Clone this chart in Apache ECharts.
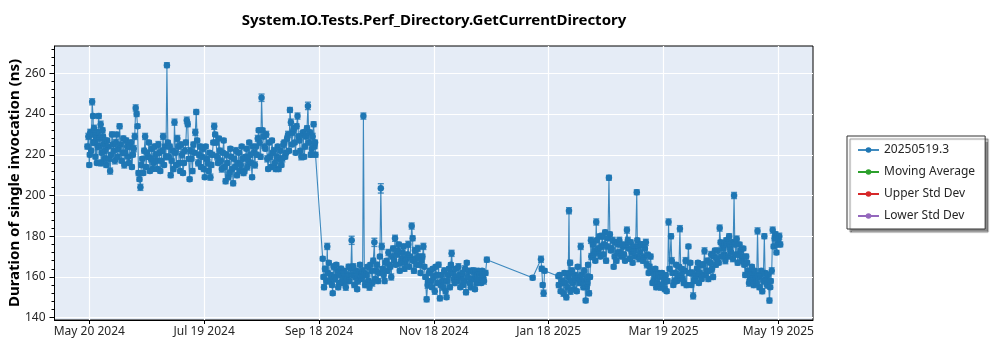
<!DOCTYPE html>
<html>
<head>
<meta charset="utf-8">
<script src="https://cdn.jsdelivr.net/npm/echarts@6/dist/echarts.min.js"></script>
<style>
  html, body { margin: 0; padding: 0; background: #ffffff; }
  #chart { width: 1000px; height: 350px; }
</style>
</head>
<body>
<div id="chart"></div>
<script>
// Run dates are given as days since May 20 2024.
const runDays = [
  -1, -0.5, 0, 0.5, 1, 1.5, 2, 2.5, 3, 3.5,
  4, 4.5, 5, 5.5, 6, 6.5, 7, 7.5, 8, 8.5,
  9, 10, 11, 11.5, 12, 13, 14, 15, 16, 16.5,
  17, 18, 19, 20, 21, 22, 23, 24, 24.5, 25,
  25.5, 26, 26.5, 27, 28, 29, 29.5, 30, 31, 32,
  33, 34, 35, 36, 37, 38, 39, 40, 41, 41.5,
  42, 43, 44, 45, 46, 47, 48, 49, 50, 51,
  51.5, 52, 53, 53.5, 54, 55, 56, 56.5, 57, 58,
  59, 60, 61, 62, 63, 64, 65, 66, 66.5, 67,
  68, 69, 70, 71, 72, 73, 74, 75, 76, 77,
  78, 79, 80, 81, 82, 83, 84, 85, 86, 87,
  88, 89, 90, 91, 91.5, 92, 93, 94, 95, 96,
  97, 98, 99, 100, 101, 102, 103, 104, 105, 106,
  106.5, 107, 108, 109, 110, 110.5, 111, 112, 113, 114,
  115, 115.5, 116, 117, 118, 118.5, 119, 119.5,
  123.3, 124, 125.7, 126, 127, 128.6, 129, 130, 131, 132,
  133, 134, 135, 136, 137, 138.6, 139, 140, 141, 142,
  143, 144, 144.8, 145.3, 146, 147, 148, 149, 150, 150.6,
  151, 152, 153, 154, 154.5, 155, 156, 157, 158, 159,
  160, 161.5, 162, 163, 164, 165, 166, 167, 168, 169,
  170.3, 170.8, 171, 172, 173, 174, 175, 176.5, 177, 178.2,
  179, 180, 181, 182, 183, 184, 185.2, 186, 187, 188.7,
  189, 190, 191.4, 192, 193, 194, 195, 196, 197, 198,
  199, 199.4, 200, 201, 202, 203.7, 204, 205, 206, 207,
  208, 210,
  234.2, 238.6, 239, 239.5, 240, 240.5, 247.8, 248, 249, 250,
  251, 252, 253, 253.4, 254, 254.5, 255, 256, 257, 258,
  259, 259.6, 260, 261, 262.2, 263, 263.5, 264, 265, 265.5,
  266, 267, 267.8, 268, 269, 270, 271, 272, 273, 274,
  274.5, 275, 276, 277, 278, 279, 280, 281, 282, 283,
  284, 285, 286, 287, 288, 289.2, 289.5, 290, 291, 292,
  293, 294, 295, 296, 297, 298, 299, 300, 301, 302,
  303, 304, 305, 306, 307.3, 308, 309, 310, 311, 312,
  313, 314, 315, 316.5, 317, 318, 319, 320, 321, 322,
  323, 324, 325, 326, 327, 328, 329, 330, 331, 332,
  333, 333.5, 334, 335, 336, 337, 338, 339, 340, 340.6,
  341, 342, 343, 344, 345, 346, 347, 348, 349, 350,
  351, 352, 353, 353.5, 354, 355, 356, 356.6, 357, 358,
  359.3, 360, 360.5, 361, 361.5, 362, 363, 364, 365
];

// Duration of a single invocation, ns
const durations = [
  224, 229, 215, 231, 222, 246, 239, 233, 226, 229,
  216, 224, 239, 228, 235, 221, 232, 225, 218, 227,
  215, 224, 212, 220, 230, 222, 226, 219, 234, 225,
  217, 228, 221, 224, 216, 226, 220, 229, 243, 240,
  234, 211, 208, 204, 218, 222, 229, 214, 219, 212,
  223, 216, 220, 213, 221, 217, 229, 224, 264, 226,
  219, 210, 222, 236, 215, 224, 212, 220, 216, 226,
  237, 235, 208, 222, 218, 225, 231, 241, 227, 220,
  214, 223, 209, 218, 212, 209, 220, 234, 230, 226,
  216, 222, 213, 227, 207, 216, 211, 219, 206, 214,
  210, 221, 215, 218, 212, 223, 217, 220, 209, 221,
  224, 228, 226, 248, 232, 229, 223, 218, 226, 214,
  221, 216, 219, 213, 222, 218, 226, 221, 230, 242,
  236, 225, 233, 221, 239, 229, 227, 219, 231, 224,
  233, 244, 226, 220, 229, 235, 224, 220,
  169, 155, 175, 162, 158, 152, 165, 160, 163, 157,
  164, 159, 162, 158, 165, 178, 161, 156, 163, 158,
  166, 160, 239, 162, 157, 165, 155, 163, 168, 177,
  159, 166, 162, 203.5, 175, 164, 158, 168, 172, 165,
  170, 179, 166, 173, 163, 169, 175, 167, 171, 165,
  185, 179, 168, 173, 166, 170, 162, 175, 165, 149,
  158, 163, 155, 160, 165, 157, 149.5, 161, 155, 150,
  158, 164, 171.6, 162, 157, 160, 165, 155, 162, 158,
  152.5, 167, 160, 157, 163, 154, 161, 158, 162, 157,
  160, 168.5,
  159.6, 168.7, 164, 156, 152, 163, 160.3, 156, 153, 158,
  162, 150, 160, 192.5, 167, 158, 163, 154, 159, 165,
  157, 175, 161, 155, 148.4, 160, 166, 152, 178, 170,
  176, 173, 187, 178, 174, 170, 180, 176, 168, 179,
  208.7, 181, 174, 165, 177, 172, 178, 170, 175, 168,
  183, 174, 177, 167, 173, 201.6, 178, 175, 172, 176,
  170, 177, 171, 165, 163, 158, 164, 157, 162, 155,
  160, 154, 153, 187, 180, 162, 158, 166, 160, 183.7,
  164, 157, 168, 175, 162, 156, 150.7, 159, 164, 157,
  166, 161, 172.8, 163, 159, 167, 164, 170, 166, 173,
  184, 177, 170, 174, 168, 176, 180, 172, 169, 200,
  176, 178.6, 171, 173, 168, 166, 170, 163, 159, 165,
  156, 161, 182.6, 160, 155, 163, 158, 180, 162, 156,
  148.4, 158, 163, 183, 175, 179, 172, 178, 176
];

// Standard error of each measurement, ns
const stdErrors = [
  1.2, 1.5, 1, 1.5, 1.2, 1.5, 1, 1.5, 1.2, 1,
  1, 1.5, 1.2, 1, 1.5, 1, 1.2, 1, 1.5, 1,
  1.2, 1, 1.5, 1, 1.2, 1, 1.5, 1, 1.2, 1,
  1, 1.2, 1, 1.5, 1, 1.2, 1, 1.5, 1.5, 1.2,
  1, 1.2, 1, 1.5, 1, 1.2, 1.5, 1, 1.2, 1,
  1.2, 1, 1.5, 1, 1.2, 1, 1.5, 1, 1.2, 1,
  1, 1.2, 1, 1.5, 1, 1.2, 1, 1.5, 1, 1.2,
  1.5, 1.2, 1, 1.5, 1, 1.2, 1.5, 1.2, 1, 1.2,
  1, 1.5, 1, 1.2, 1, 1.5, 1.2, 1.5, 1, 1.2,
  1, 1.2, 1.5, 1, 1.2, 1, 1.5, 1, 1.2, 1,
  1.2, 1, 1.5, 1, 1.2, 1, 1.5, 1.2, 1, 1.2,
  1, 1.5, 1.2, 1.8, 1, 1.2, 1, 1.5, 1, 1.2,
  1, 1.5, 1, 1.2, 1, 1.5, 1.2, 1, 1.5, 1.2,
  1.5, 1, 1.2, 1, 1.5, 1.2, 1, 1.5, 1, 1.2,
  1.2, 1.8, 1, 1.2, 1.5, 1.2, 1, 1.2,
  1, 1.2, 1.5, 1, 1.2, 1, 1.5, 1, 1.2, 1,
  1.2, 1, 1.5, 1, 1.2, 2, 1, 1.2, 1, 1.5,
  1, 1.2, 1.5, 1, 1.2, 1, 1.5, 1, 1.2, 2,
  1, 1.2, 1, 2.3, 1.5, 1, 1.2, 1, 1.5, 1,
  1.2, 1.5, 1, 1.2, 1, 1.5, 1.2, 1, 1.2, 1,
  1.5, 1.2, 1, 1.5, 1, 1.2, 1, 1.5, 1, 1.2,
  1, 1.2, 1, 1.5, 1, 1.2, 1.2, 1, 1.5, 1,
  1.2, 1, 1.5, 1, 1.2, 1, 1.5, 1, 1.2, 1,
  1.2, 1, 1.5, 1, 1.2, 1, 1.5, 1, 1.2, 1,
  1, 1.2,
  1, 1.5, 1.2, 1, 1.5, 1, 1, 1.2, 1, 1.5,
  1, 1.2, 1, 1.5, 1.2, 1, 1.5, 1, 1.2, 1,
  1.2, 1.5, 1, 1.2, 1, 1.5, 1, 1.2, 1.5, 1,
  1.2, 1, 1.5, 1, 1.2, 1, 1.5, 1, 1.2, 1,
  1.2, 1, 1.5, 1, 1.2, 1, 1.5, 1, 1.2, 1,
  1.5, 1, 1.2, 1, 1.5, 1.2, 1, 1.5, 1, 1.2,
  1, 1.5, 1, 1.2, 1, 1.5, 1, 1.2, 1, 1.5,
  1, 1.2, 1, 1.5, 1.2, 1, 1.5, 1, 1.2, 1.5,
  1, 1.2, 1.5, 1, 1.2, 1, 1.5, 1, 1.2, 1,
  1.2, 1, 1.5, 1, 1.2, 1, 1.5, 1, 1.2, 1,
  1.5, 1, 1.2, 1, 1.5, 1, 1.2, 1, 1.5, 1.5,
  1, 1.5, 1.2, 1, 1.5, 1, 1.2, 1, 1.5, 1,
  1.2, 1, 1.5, 1, 1.2, 1, 1.5, 1.2, 1, 1.5,
  1.2, 1, 1.5, 1.5, 1, 1.2, 1, 1.5, 1.2
];

// Additional runs on the same days (later builds of the day)
const laterRunDays = [
  0.25, 1.25, 2.25, 3.25, 4.25, 5.25, 6.25, 7.25, 8.25, 9.5,
  10.5, 12.5, 13.5, 14.5, 15.5, 17.5, 18.5, 19.5, 20.5, 21.5,
  22.5, 23.5, 27.5, 28.5, 30.5, 31.5, 32.5, 33.5, 34.5, 35.5,
  36.5, 37.5, 38.5, 39.5, 40.5, 42.5, 43.5, 44.5, 45.5, 46.5,
  47.5, 48.5, 49.5, 50.5, 52.5, 54.5, 55.5, 57.5, 58.5, 59.5,
  60.5, 61.5, 62.5, 63.5, 64.5, 65.5, 67.5, 68.5, 69.5, 70.5,
  71.5, 72.5, 73.5, 74.5, 75.5, 76.5, 77.5, 78.5, 79.5, 80.5,
  81.5, 82.5, 83.5, 84.5, 85.5, 86.5, 87.5, 88.5, 89.5, 90.5,
  92.5, 93.5, 94.5, 95.5, 96.5, 97.5, 98.5, 99.5, 100.5, 101.5,
  102.5, 103.5, 104.5, 105.5, 107.5, 108.5, 109.5, 111.5, 112.5, 113.5,
  114.5, 116.5, 117.5, 119.25,
  123.7, 124.5, 125.3, 126.5, 127.5, 128.2, 129.5, 130.5, 131.5, 132.5,
  133.5, 134.5, 135.5, 136.5, 137.5, 138.2, 139.5, 140.5, 141.5, 142.5,
  143.5, 144.4, 145.7, 146.5, 147.5, 148.5, 149.5, 151.5, 152.5, 153.5,
  155.5, 156.5, 157.5, 158.5, 159.5, 160.5, 161, 162.5, 163.5, 164.5,
  165.5, 166.5, 167.5, 168.5, 169.5, 171.5, 172.5, 173.5, 174.5, 175.5,
  176, 177.5, 178.7, 179.5, 180.5, 181.5, 182.5, 183.5, 184.5, 185.7,
  186.5, 187.5, 188.2, 189.5, 190.5, 191, 192.5, 193.5, 194.5, 195.5,
  196.5, 197.5, 198.5, 200.5, 201.5, 202.5, 203, 204.5, 205.5, 206.5,
  207.5, 208.5, 209.3,
  248.5, 249.5, 250.5, 251.5, 252.5, 253.7, 254.2, 255.5, 256.5, 257.5,
  258.5, 260.5, 261.5, 262.7, 263.2, 264.5, 265.2, 266.5, 267.3, 268.5,
  269.5, 270.5, 271.5, 272.5, 273.5, 275.5, 276.5, 277.5, 278.5, 279.5,
  280.5, 281.5, 282.5, 283.5, 284.5, 285.5, 286.5, 287.5, 288.5, 290.5,
  291.5, 292.5, 293.5, 294.5, 295.5, 296.5, 297.5, 298.5, 299.5, 300.5,
  301.5, 302.5, 303.5, 304.5, 305.5, 306.5, 307.7, 308.5, 309.5, 310.5,
  311.5, 312.5, 313.5, 314.5, 315.5, 317.5, 318.5, 319.5, 320.5, 321.5,
  322.5, 323.5, 324.5, 325.5, 326.5, 327.5, 328.5, 329.5, 330.5, 331.5,
  332.5, 334.5, 335.5, 336.5, 337.5, 338.5, 339.5, 341.5, 342.5, 343.5,
  344.5, 345.5, 346.5, 347.5, 348.5, 349.5, 350.5, 351.5, 352.5, 354.5,
  355.5, 357.5, 358.5, 359.7, 362.5, 363.5, 364.5
];

const laterDurations = [
  220, 230, 226, 219, 231, 224, 216, 229, 222, 227,
  218, 225, 217, 230, 223, 221, 215, 227, 219, 224,
  214, 223, 215, 211, 221, 226, 218, 213, 224, 217,
  225, 212, 222, 215, 219, 224, 217, 213, 221, 228,
  216, 225, 211, 222, 218, 212, 221, 216, 224, 219,
  213, 224, 216, 221, 215, 226, 219, 228, 217, 221,
  214, 220, 209, 223, 213, 218, 222, 216, 212, 224,
  211, 219, 214, 226, 216, 224, 215, 220, 232, 219,
  224, 230, 213, 219, 227, 222, 213, 224, 218, 215,
  225, 219, 228, 222, 231, 226, 234, 222, 230, 219,
  229, 231, 223, 226,
  160, 164, 158, 167, 161, 156, 159, 166, 155, 161,
  157, 163, 155, 161, 158, 164, 165, 160, 154, 162,
  159, 163, 156, 161, 158, 166, 157, 163, 158, 170,
  161, 167, 163, 166, 160, 174, 168, 171, 176, 167,
  172, 164, 169, 176, 170, 163, 169, 174, 166, 168,
  170, 160, 156, 162, 158, 164, 153, 161, 166, 156,
  158, 163, 153, 161, 155, 166, 159, 164, 158, 161,
  160, 156, 164, 163, 155, 159, 163, 157, 163, 159,
  163, 158, 162,
  161, 157, 152, 157, 155, 162, 153, 157, 161, 153,
  160, 158, 163, 155, 157, 160, 170, 171, 168, 172,
  180, 175, 171, 182, 175, 173, 178, 170, 168, 176,
  172, 176, 171, 176, 178, 169, 172, 175, 170, 169,
  176, 168, 174, 166, 162, 170, 157, 161, 155, 160,
  156, 162, 157, 161, 158, 164, 168, 156, 162, 158,
  165, 161, 159, 163, 156, 167, 162, 158, 161, 167,
  162, 159, 166, 161, 168, 163, 171, 160, 173, 169,
  167, 176, 171, 178, 170, 174, 177, 171, 167, 176,
  170, 174, 161, 167, 157, 162, 159, 163, 157, 161,
  153, 159, 161, 155, 181, 176, 180
];

const laterStdErrors = [
  1, 1.2, 1.5, 1, 1.2, 1, 1.5, 1, 1.2, 1,
  1.2, 1, 1.5, 1, 1.2, 1, 1.5, 1.2, 1, 1.2,
  1, 1.5, 1.2, 1, 1.2, 1, 1.5, 1, 1.2, 1,
  1.5, 1, 1.2, 1, 1.5, 1.2, 1, 1.2, 1, 1.5,
  1, 1.2, 1, 1.5, 1, 1.2, 1, 1.5, 1.2, 1,
  1.2, 1, 1.5, 1, 1.2, 1, 1.5, 1, 1.2, 1,
  1, 1.5, 1.2, 1, 1.2, 1, 1.5, 1, 1.2, 1,
  1.2, 1, 1.5, 1, 1.2, 1, 1.5, 1.2, 1, 1.2,
  1, 1.5, 1, 1.2, 1, 1.5, 1.2, 1, 1.2, 1,
  1.5, 1, 1.2, 1, 1.5, 1, 1.2, 1, 1.5, 1,
  1.2, 1, 1.5, 1.2,
  1, 1.2, 1.5, 1, 1.2, 1, 1.5, 1, 1.2, 1,
  1.2, 1, 1.5, 1, 1.2, 1, 1.5, 1.2, 1, 1.2,
  1, 1.5, 1.2, 1, 1.2, 1, 1.5, 1, 1.2, 1,
  1.5, 1, 1.2, 1, 1.5, 1.2, 1, 1.2, 1, 1.5,
  1, 1.2, 1, 1.5, 1, 1.2, 1, 1.5, 1.2, 1,
  1.2, 1, 1.5, 1, 1.2, 1, 1.5, 1, 1.2, 1,
  1, 1.5, 1.2, 1, 1.2, 1, 1.5, 1, 1.2, 1,
  1.2, 1, 1.5, 1, 1.2, 1, 1.5, 1.2, 1, 1.2,
  1, 1.5, 1.2,
  1, 1.2, 1.5, 1, 1.2, 1, 1.5, 1, 1.2, 1,
  1.2, 1, 1.5, 1, 1.2, 1, 1.5, 1.2, 1, 1.2,
  1, 1.5, 1.2, 1, 1.2, 1, 1.5, 1, 1.2, 1,
  1.5, 1, 1.2, 1, 1.5, 1.2, 1, 1.2, 1, 1.5,
  1, 1.2, 1, 1.5, 1, 1.2, 1, 1.5, 1.2, 1,
  1.2, 1, 1.5, 1, 1.2, 1, 1.5, 1, 1.2, 1,
  1, 1.5, 1.2, 1, 1.2, 1, 1.5, 1, 1.2, 1,
  1.2, 1, 1.5, 1, 1.2, 1, 1.5, 1.2, 1, 1.2,
  1, 1.5, 1, 1.2, 1, 1.5, 1.2, 1, 1.2, 1,
  1.5, 1, 1.2, 1, 1.5, 1, 1.2, 1, 1.5, 1,
  1.2, 1, 1.5, 1, 1.2, 1, 1.5
];

// Date axis ticks (days since May 20 2024) and their labels
const xTickDays = [0, 60.67, 121.33, 182, 242.67, 303.33, 364];
const xTickLabels = ['May 20 2024', 'Jul 19 2024', 'Sep 18 2024', 'Nov 18 2024',
                     'Jan 18 2025', 'Mar 19 2025', 'May 19 2025'];
const yTickValues = [140, 160, 180, 200, 220, 240, 260];

const seriesNames = ['20250519.3', 'Moving Average', 'Upper Std Dev', 'Lower Std Dev'];
const seriesColors = ['#1f77b4', '#2ca02c', '#d62728', '#9467bd'];

const chartTitle = 'System.IO.Tests.Perf_Directory.GetCurrentDirectory';
const yAxisTitle = 'Duration of single invocation (ns)';

const X_MIN = -18.38, X_MAX = 382.3;
const Y_MIN = 138.87, Y_MAX = 273.4;

// minor ticks on the value axis, four between labelled ticks
const yMinorTicks = [];
for (let v = 140; v <= Y_MAX; v += 4) {
  if (v % 20 !== 0) yMinorTicks.push(v);
}

const FONT = '"Noto Sans", "Open Sans", sans-serif';
const TEXT = '#262626';

// merge all runs and order them by date so the line follows time
const runs = runDays.map((d, i) => [d, durations[i], stdErrors[i]])
  .concat(laterRunDays.map((d, i) => [d, laterDurations[i], laterStdErrors[i]]))
  .sort((a, b) => a[0] - b[0]);

const points = runs.map(r => [r[0], r[1]]);
const errorBars = runs.map(r => [r[0], r[1] - r[2], r[1] + r[2]]);

const chart = echarts.init(document.getElementById('chart'), null, { renderer: 'canvas' });

chart.setOption({
  animation: false,
  backgroundColor: '#ffffff',
  title: {
    text: chartTitle,
    left: 429,
    top: 8,
    textAlign: 'center',
    textStyle: { fontFamily: FONT, fontWeight: 'bold', fontSize: 15, color: '#000' }
  },
  grid: {
    left: 54.5, right: 187, top: 46, bottom: 30,
    outerBoundsMode: 'none',
    containLabel: false,
    show: true, backgroundColor: '#e5ecf6', borderColor: '#000', borderWidth: 1
  },
  legend: {
    data: seriesNames,
    orient: 'vertical',
    left: 847, top: 136,
    padding: [7, 10, 6, 10],
    itemWidth: 21, itemHeight: 7, itemGap: 8,
    backgroundColor: '#ffffff',
    borderColor: '#333', borderWidth: 1, borderRadius: 0,
    shadowColor: 'rgba(0,0,0,0.45)', shadowBlur: 1, shadowOffsetX: 3, shadowOffsetY: 3,
    textStyle: { fontFamily: FONT, fontSize: 12, color: TEXT, lineHeight: 14 }
  },
  xAxis: {
    type: 'value',
    min: X_MIN, max: X_MAX,
    axisLine: { show: true, onZero: false, lineStyle: { color: '#000', width: 1 } },
    axisTick: { show: true, length: 4, customValues: xTickDays, lineStyle: { color: '#000' } },
    axisLabel: {
      customValues: xTickDays, margin: 6,
      fontFamily: FONT, fontSize: 12, color: TEXT,
      formatter: v => {
        const i = xTickDays.findIndex(t => Math.abs(t - v) < 0.01);
        return i >= 0 ? xTickLabels[i] : '';
      }
    },
    splitLine: { show: true, lineStyle: { color: '#ffffff', width: 1.2 } }
  },
  yAxis: [{
    type: 'value',
    min: Y_MIN, max: Y_MAX,
    name: yAxisTitle,
    nameLocation: 'middle',
    nameGap: 32,
    nameMoveOverlap: false,
    nameTextStyle: { fontFamily: FONT, fontWeight: 'bold', fontSize: 15, color: '#000' },
    axisLine: { show: true, onZero: false, lineStyle: { color: '#000', width: 1 } },
    axisTick: { show: true, length: 5, customValues: yTickValues, lineStyle: { color: '#000' } },
    axisLabel: { customValues: yTickValues, margin: 9, fontFamily: FONT, fontSize: 12, color: TEXT },
    splitLine: { show: true, lineStyle: { color: '#ffffff', width: 1.2 } }
  }, {
    type: 'value',
    min: Y_MIN, max: Y_MAX,
    position: 'left',
    axisLine: { show: false, onZero: false },
    axisTick: { show: true, length: 3, customValues: yMinorTicks, lineStyle: { color: '#000' } },
    axisLabel: { show: false },
    splitLine: { show: false }
  }],
  series: [
    {
      name: seriesNames[0],
      type: 'line',
      data: points,
      symbol: 'circle',
      symbolSize: 6.5,
      showAllSymbol: true,
      itemStyle: { color: seriesColors[0] },
      lineStyle: { color: seriesColors[0], width: 1.1, opacity: 0.85 },
      z: 3
    },
    {
      name: 'errors',
      type: 'custom',
      data: errorBars,
      encode: { x: 0, y: [1, 2] },
      clip: true,
      z: 4,
      renderItem: (params, api) => {
        const x = api.value(0);
        const lo = api.coord([x, api.value(1)]);
        const hi = api.coord([x, api.value(2)]);
        const hw = 3;
        const style = { stroke: seriesColors[0], lineWidth: 1.4, opacity: 0.8 };
        return {
          type: 'group',
          children: [
            { type: 'line', shape: { x1: hi[0], y1: hi[1], x2: lo[0], y2: lo[1] }, style },
            { type: 'line', shape: { x1: hi[0] - hw, y1: hi[1], x2: hi[0] + hw, y2: hi[1] }, style },
            { type: 'line', shape: { x1: lo[0] - hw, y1: lo[1], x2: lo[0] + hw, y2: lo[1] }, style }
          ]
        };
      }
    },
    { name: seriesNames[1], type: 'line', data: [], symbol: 'circle', itemStyle: { color: seriesColors[1] }, lineStyle: { color: seriesColors[1], width: 1.2 } },
    { name: seriesNames[2], type: 'line', data: [], symbol: 'circle', itemStyle: { color: seriesColors[2] }, lineStyle: { color: seriesColors[2], width: 1.2 } },
    { name: seriesNames[3], type: 'line', data: [], symbol: 'circle', itemStyle: { color: seriesColors[3] }, lineStyle: { color: seriesColors[3], width: 1.2 } }
  ]
});
</script>
</body>
</html>
